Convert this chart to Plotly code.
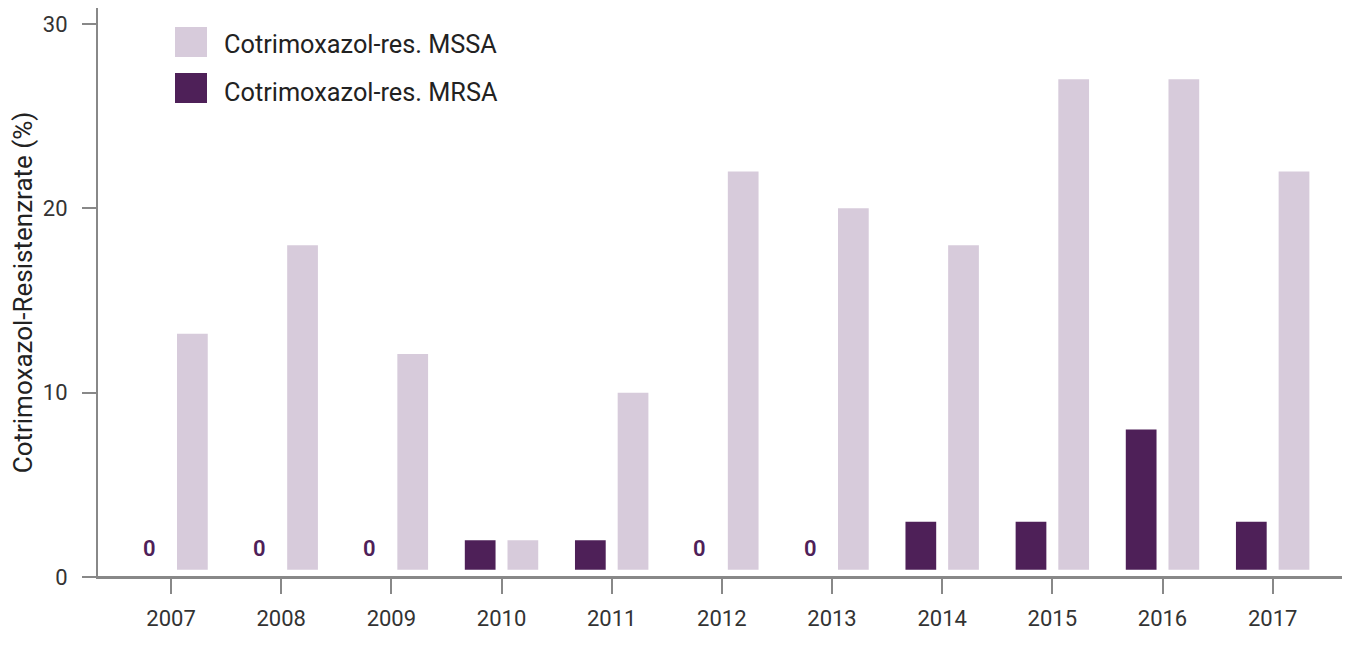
import plotly.graph_objects as go

years = ["2007", "2008", "2009", "2010", "2011", "2012", "2013", "2014", "2015", "2016", "2017"]
mrsa = [0, 0, 0, 2, 2, 0, 0, 3, 3, 8, 3]
mssa = [13.2, 18, 12.1, 2, 10, 22, 20, 18, 27, 27, 22]
series_names = ["Cotrimoxazol-res. MSSA", "Cotrimoxazol-res. MRSA"]
y_ticks = [0, 10, 20, 30]

C_MRSA = "#4e2058"
C_MSSA = "#d7cbdb"
AXIS = "#888888"
FONT = "Roboto"

fig = go.Figure()
fig.add_trace(go.Bar(x=years, y=mrsa, name=series_names[1], marker=dict(color=C_MRSA, line=dict(width=0)), showlegend=False))
fig.add_trace(go.Bar(x=years, y=mssa, name=series_names[0], marker=dict(color=C_MSSA, line=dict(width=0)), showlegend=False))

# small white strip: bars start slightly above the axis
shapes = [
    dict(type="rect", xref="x", yref="y", x0=-0.6, x1=len(years) - 0.4, y0=0, y1=0.4,
         fillcolor="white", line=dict(width=0), layer="above"),
    dict(type="line", xref="paper", yref="y", x0=0, x1=1, y0=0, y1=0,
         line=dict(color=AXIS, width=2), layer="above"),
]

annotations = []
for i, v in enumerate(mrsa):
    if v == 0:
        annotations.append(dict(x=i, y=0, xref="x", yref="y", text="0", showarrow=False,
                                xshift=-22, yshift=29, yanchor="middle",
                                font=dict(family=FONT, size=22, color=C_MRSA, weight=600)))

# custom legend (big square swatches)
legend_rows = [(series_names[0], C_MSSA, -19, -36), (series_names[1], C_MRSA, -65, -84)]
for name, col, top, ymid in legend_rows:
    shapes.append(dict(type="rect", xref="paper", yref="paper", xsizemode="pixel", ysizemode="pixel",
                       xanchor=0, yanchor=1, x0=77, x1=109, y0=top, y1=top - 30,
                       fillcolor=col, line=dict(width=0)))
    annotations.append(dict(x=0, y=1, xref="paper", yref="paper", xshift=124, yshift=ymid,
                            xanchor="left", yanchor="middle", showarrow=False, text=name,
                            font=dict(family=FONT, size=25.3, color="#222")))

fig.update_layout(
    width=1342, height=642,
    margin=dict(l=90, r=0, t=0, b=73),
    plot_bgcolor="white", paper_bgcolor="white",
    barmode="group", bargap=0.225, bargroupgap=0.28,
    font=dict(family=FONT, size=22, color="#333"),
    shapes=shapes, annotations=annotations,
    xaxis=dict(type="category", range=[-0.663, len(years) - 1 + 0.702], showline=True, linecolor=AXIS, linewidth=2,
               ticks="outside", ticklen=15, tickwidth=2, tickcolor=AXIS, ticklabelstandoff=6,
               showgrid=False, zeroline=False, tickfont=dict(size=22, color="#333")),
    yaxis=dict(range=[0, 30.87], tickvals=y_ticks, showline=True, linecolor=AXIS, linewidth=2,
               ticks="outside", ticklen=14, tickwidth=2, tickcolor=AXIS, ticklabelstandoff=10,
               showgrid=False, zeroline=False, tickfont=dict(size=22, color="#333"), automargin=True,
               title=dict(text="Cotrimoxazol-Resistenzrate (%)", font=dict(size=26, color="#222"), standoff=6)),
)

fig.write_html("out.html")
